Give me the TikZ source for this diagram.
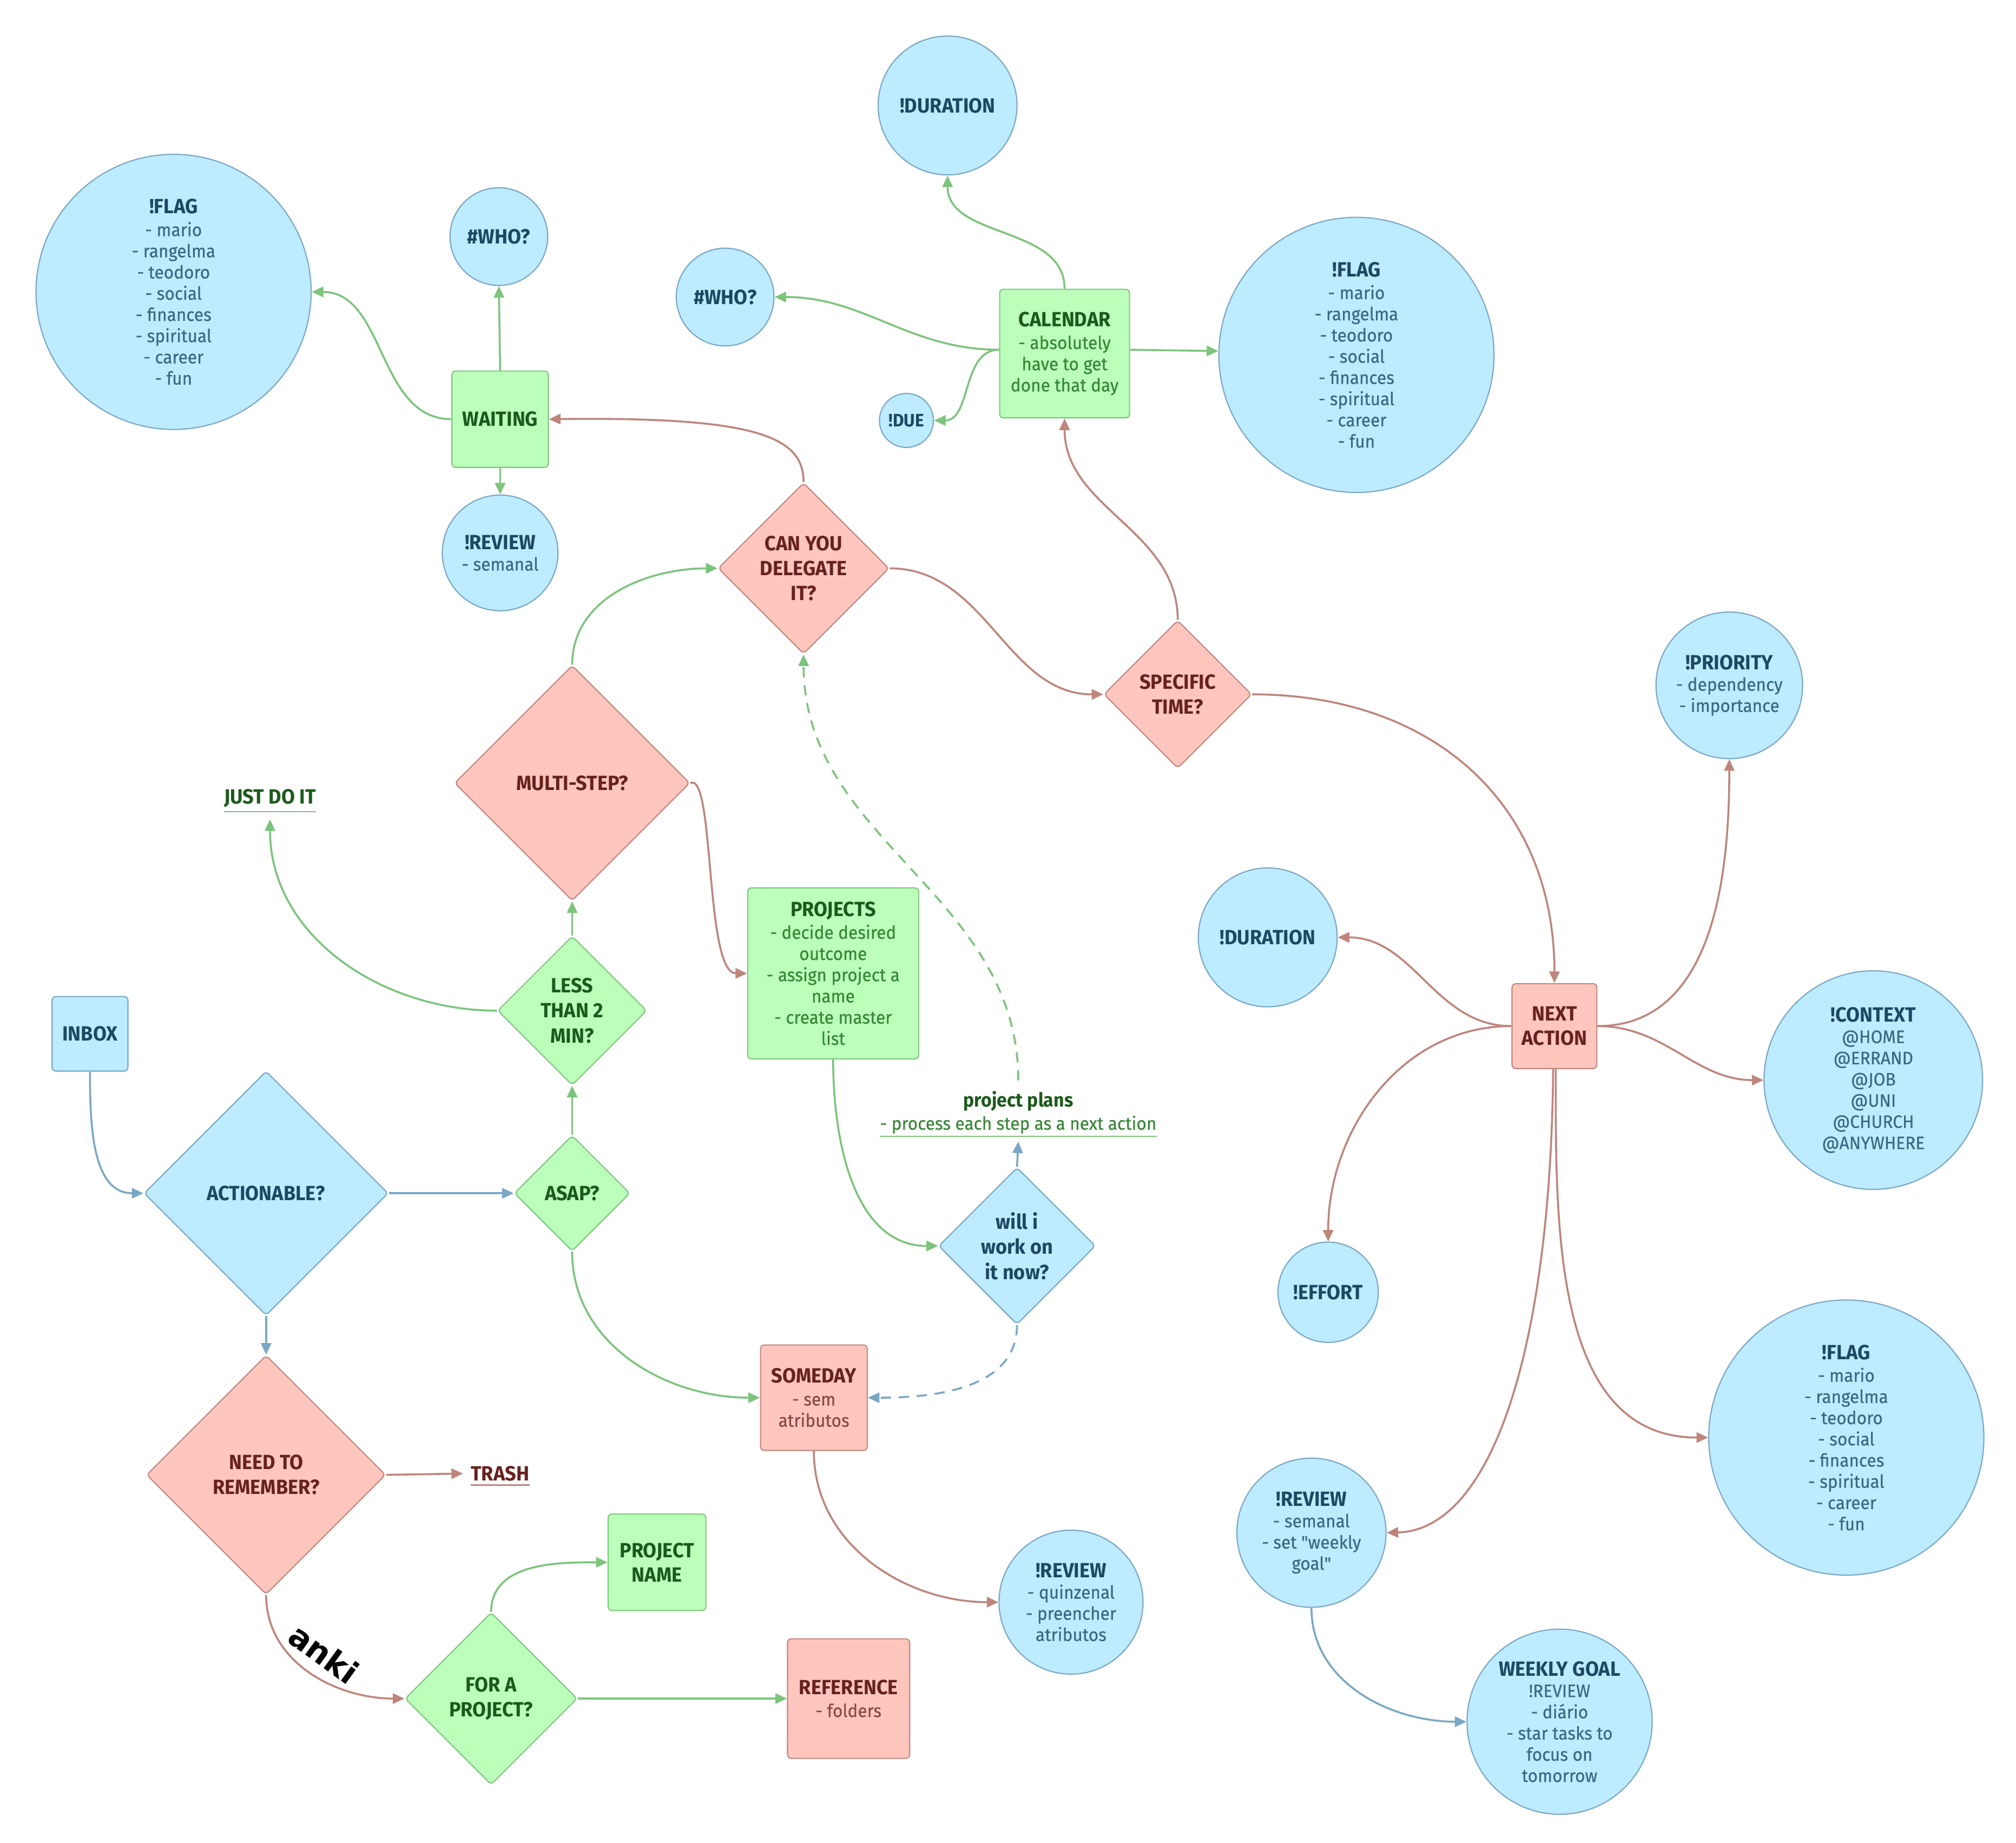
\documentclass[tikz,border=0pt]{standalone}
\usepackage{fontspec}
\setmainfont{Fira Sans}[FakeStretch=0.95, UprightFeatures={FakeBold=0.4}]
\newfontfamily\qfont{Fira Sans}[FakeStretch=0.95, FakeBold=0.4]
\newfontfamily\ankifont{DejaVu Sans}
\usetikzlibrary{shapes.geometric,arrows.meta}
\definecolor{bfill}{HTML}{BDEBFF}
\definecolor{bdraw}{HTML}{7AA7C4}
\definecolor{bhdr}{HTML}{1D4862}
\definecolor{bbody}{HTML}{3B6882}
\definecolor{gfill}{HTML}{BBFFBB}
\definecolor{gdraw}{HTML}{80C680}
\definecolor{ghdr}{HTML}{1C5A1C}
\definecolor{gbody}{HTML}{388638}
\definecolor{rfill}{HTML}{FFC6BE}
\definecolor{rdraw}{HTML}{C2877F}
\definecolor{rhdr}{HTML}{67221E}
\definecolor{rbody}{HTML}{8A4843}
\definecolor{gline}{HTML}{7CC47C}
\definecolor{rline}{HTML}{BE857C}
\definecolor{bline}{HTML}{7AA8C4}
\newcommand\hd[2]{{\color{#1}\bfseries\fontsize{16}{19}\selectfont #2}}
\newcommand\dq{{\qfont"}}
\tikzset{
  base/.style={align=center, inner sep=0pt, line width=0.9pt, font=\fontsize{14}{16.5}\selectfont},
  bcirc/.style={base, circle, fill=bfill, draw=bdraw, text=bbody},
  bbox/.style={base, rectangle, rounded corners=3pt, fill=bfill, draw=bdraw, text=bbody},
  gbox/.style={base, rectangle, rounded corners=3pt, fill=gfill, draw=gdraw, text=gbody},
  rbox/.style={base, rectangle, rounded corners=3pt, fill=rfill, draw=rdraw, text=rbody},
  boldtxt/.style={font=\bfseries\fontsize{16}{19}\selectfont},
  dia/.style={base, diamond, aspect=1, rounded corners=3pt, font=\bfseries\fontsize{16}{19.5}\selectfont},
  bdia/.style={dia, fill=bfill, draw=bdraw, text=bhdr},
  gdia/.style={dia, fill=gfill, draw=gdraw, text=ghdr},
  rdia/.style={dia, fill=rfill, draw=rdraw, text=rhdr},
  conn/.style={line width=1.5pt, -{Triangle[length=9pt,width=8pt]}},
  gedge/.style={conn, draw=gline},
  redge/.style={conn, draw=rline},
  bedge/.style={conn, draw=bline},
  dashedge/.style={dash pattern=on 8pt off 6pt},
}
\begin{document}
\begin{tikzpicture}[x=1pt,y=-1pt]
\fill[white] (0,0) rectangle (1568,1433);
\useasboundingbox (0,0) rectangle (1568,1433);

% ---- top left
\node[bcirc, minimum size=214pt] (flagA) at (135,227) {\hd{bhdr}{!FLAG}\\[1pt] - mario\\ - rangelma\\ - teodoro\\ - social\\ - finances\\ - spiritual\\ - career\\ - fun};
\node[bcirc, minimum size=76pt] (whoA) at (388,184) {\hd{bhdr}{\#WHO?}};
\node[gbox, minimum width=75pt, minimum height=75pt] (waiting) at (389,326) {\hd{ghdr}{WAITING}};
\node[bcirc, minimum size=90pt] (revA) at (389,430) {\hd{bhdr}{!REVIEW}\\ - semanal};

% ---- top middle
\node[bcirc, minimum size=108pt] (durA) at (737,82) {\hd{bhdr}{!DURATION}};
\node[bcirc, minimum size=76pt] (whoB) at (564,231) {\hd{bhdr}{\#WHO?}};
\node[gbox, minimum width=101pt, minimum height=100pt] (cal) at (828,275) {\hd{ghdr}{CALENDAR}\\[1pt] - absolutely\\ have to get\\ done that day};
\node[bcirc, minimum size=42pt] (due) at (705,327) {{\color{bhdr}\bfseries\fontsize{14}{16}\selectfont !DUE}};
\node[bcirc, minimum size=214pt] (flagB) at (1055,276) {\hd{bhdr}{!FLAG}\\[1pt] - mario\\ - rangelma\\ - teodoro\\ - social\\ - finances\\ - spiritual\\ - career\\ - fun};

% ---- decisions
\node[rdia, minimum size=133pt] (deleg) at (625,442) {CAN YOU\\ DELEGATE\\ IT?};
\node[rdia, minimum size=115pt] (spec) at (916,540) {SPECIFIC\\ TIME?};
\node[rdia, minimum size=183pt] (multi) at (445,609) {MULTI-STEP?};
\node[gdia, minimum size=116pt] (less) at (445,786) {LESS\\ THAN 2\\ MIN?};
\node[gdia, minimum size=90pt] (asap) at (445,928) {ASAP?};
\node[bdia, minimum size=190pt] (act) at (207,928) {ACTIONABLE?};
\node[rdia, minimum size=186pt] (need) at (207,1147) {NEED TO\\ REMEMBER?};
\node[bdia, minimum size=122pt] (willi) at (791,969) {will i\\ work on\\ it now?};
\node[gdia, minimum size=134pt] (forp) at (382,1321) {FOR A\\ PROJECT?};

% ---- boxes
\node[bbox, minimum width=59pt, minimum height=58pt] (inbox) at (70,804) {\hd{bhdr}{INBOX}};
\node[gbox, minimum width=133pt, minimum height=133pt] (proj) at (648,757) {\hd{ghdr}{PROJECTS}\\[1pt] - decide desired\\ outcome\\ - assign project a\\ name\\ - create master\\ list};
\node[rbox, minimum width=83pt, minimum height=82pt] (someday) at (633,1087) {\hd{rhdr}{SOMEDAY}\\[1pt] - sem\\ atributos};
\node[gbox, boldtxt, text=ghdr, minimum width=76pt, minimum height=75pt] (pname) at (511,1215) {PROJECT\\ NAME};
\node[rbox, minimum width=95pt, minimum height=93pt] (ref) at (660,1321) {\hd{rhdr}{REFERENCE}\\[1pt] - folders};
\node[rbox, boldtxt, text=rhdr, minimum width=66pt, minimum height=66pt] (na) at (1209,798) {NEXT\\ ACTION};

% ---- plain labels
\node[inner xsep=0pt, inner ysep=3pt, text=ghdr, boldtxt] (justdo) at (210,621) {JUST DO IT};
\draw[gline, line width=1pt] (justdo.south west) -- (justdo.south east);
\node[inner xsep=0pt, inner ysep=3pt, text=rhdr, boldtxt] (trash) at (389,1146) {TRASH};
\draw[rline, line width=1pt] (trash.south west) -- (trash.south east);
\node[inner xsep=0pt, inner ysep=2pt, align=center, text=gbody, font=\fontsize{14}{18}\selectfont] (plans) at (792,865) {\textcolor{ghdr}{\bfseries\fontsize{15}{18}\selectfont project plans}\\ - process each step as a next action};
\draw[gline, line width=1pt] (plans.south west) -- (plans.south east);

% ---- right side
\node[bcirc, minimum size=114pt] (prio) at (1345,533) {\hd{bhdr}{!PRIORITY}\\ - dependency\\ - importance};
\node[bcirc, minimum size=108pt] (durB) at (986,729) {\hd{bhdr}{!DURATION}};
\node[bcirc, minimum size=170pt] (ctx) at (1457,840) {\hd{bhdr}{!CONTEXT}\\ @HOME\\ @ERRAND\\ @JOB\\ @UNI\\ @CHURCH\\ @ANYWHERE};
\node[bcirc, minimum size=78pt] (effort) at (1033,1005) {\hd{bhdr}{!EFFORT}};
\node[bcirc, minimum size=214pt] (flagC) at (1436,1118) {\hd{bhdr}{!FLAG}\\[1pt] - mario\\ - rangelma\\ - teodoro\\ - social\\ - finances\\ - spiritual\\ - career\\ - fun};
\node[bcirc, minimum size=116pt] (revW) at (1020,1192) {\hd{bhdr}{!REVIEW}\\ - semanal\\ - set \dq weekly\\ goal\dq};
\node[bcirc, minimum size=144pt] (goal) at (1213,1339) {\hd{bhdr}{WEEKLY GOAL}\\ !REVIEW\\ - diário\\ - star tasks to\\ focus on\\ tomorrow};
\node[bcirc, minimum size=112pt] (revQ) at (833,1246) {\hd{bhdr}{!REVIEW}\\ - quinzenal\\ - preencher\\ atributos};

% ---- connectors
\draw[gedge] (waiting.north) -- (whoA.south);
\draw[gedge] (waiting.south) -- (revA.north);
\draw[gedge] (waiting.west) to[out=180,in=0] (flagA.east);
\draw[redge] (deleg.north) .. controls (625,340) and (590,324) .. (waiting.east);
\draw[redge] (deleg.east) to[out=0,in=180] (spec.west);
\draw[redge] (spec.north) to[out=90,in=-90] (cal.south);
\draw[redge] (spec.east) to[out=0,in=90,looseness=1.1] (na.north);
\draw[gedge] (cal.north) to[out=90,in=-90] (durA.south);
\draw[gedge] ([yshift=3pt]cal.west) to[out=180,in=0] (whoB.east);
\draw[gedge] ([yshift=3pt]cal.west) to[out=180,in=0] (due.east);
\draw[gedge] ([yshift=3pt]cal.east) -- ([yshift=3pt]flagB.west);
\draw[gedge] (multi.north) to[out=90,in=180] (deleg.west);
\draw[redge] (multi.east) .. controls (556,600) and (548,757) .. (proj.west);
\draw[gedge] (less.north) -- (multi.south);
\draw[gedge] (less.west) to[out=180,in=-90] ([yshift=-6pt]justdo.south);
\draw[gedge] (asap.north) -- (less.south);
\draw[gedge] (asap.south) to[out=-90,in=180] (someday.west);
\draw[bedge] (act.east) -- (asap.west);
\draw[bedge] (inbox.south) to[out=-90,in=180] (act.west);
\draw[bedge] (act.south) -- (need.north);
\draw[redge] (need.east) -- ([xshift=-6pt]trash.west);
\draw[redge] (need.south) to[out=-90,in=180] (forp.west);
\node[font=\ankifont\bfseries\fontsize{25}{25}\selectfont, text=black, rotate=-36, inner sep=0pt] (anki) at (252,1286) {anki};
\draw[gedge] (forp.north) to[out=90,in=180] (pname.west);
\draw[gedge] (forp.east) -- (ref.west);
\draw[gedge] (proj.south) to[out=-90,in=180] (willi.west);
\draw[bedge] (willi.north) -- ([yshift=-4pt]plans.south);
\draw[gedge, dashedge] ([yshift=6pt]plans.north) to[out=90,in=-90] (deleg.south);
\draw[bedge, dashedge] (willi.south) to[out=-90,in=0] (someday.east);
\draw[redge] (someday.south) to[out=-90,in=180] (revQ.west);
\draw[redge] (na.west) to[out=180,in=0] (durB.east);
\draw[redge] (na.west) to[out=180,in=90] (effort.north);
\draw[redge] (na.east) to[out=0,in=-90] (prio.south);
\draw[redge] (na.east) to[out=0,in=180] (ctx.west);
\draw[redge] ([xshift=-1pt]na.south) .. controls (1206,1050) and (1160,1190) .. (revW.east);
\draw[redge] ([xshift=1pt]na.south) to[out=-90,in=180] (flagC.west);
\draw[bedge] (revW.south) to[out=-90,in=180] (goal.west);
\end{tikzpicture}
\end{document}
